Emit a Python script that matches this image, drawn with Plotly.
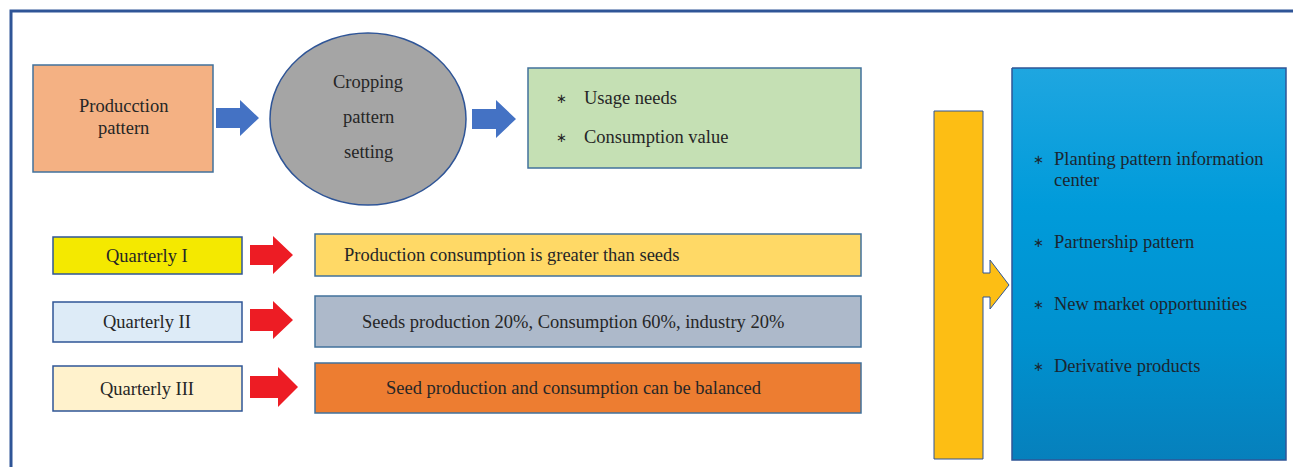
import plotly.graph_objects as go

# ---------------- content ----------------
production_label = ["Producction", "pattern"]
cropping_label = ["Cropping", "pattern", "setting"]
usage_items = ["Usage needs", "Consumption value"]
quarter_labels = ["Quarterly I", "Quarterly II", "Quarterly III"]
quarter_results = [
    "Production consumption is greater than seeds",
    "Seeds production 20%, Consumption 60%, industry 20%",
    "Seed production and consumption can be balanced",
]
outcome_items = [
    ["Planting pattern information", "center"],
    ["Partnership pattern"],
    ["New market opportunities"],
    ["Derivative products"],
]

# ---------------- styling / geometry (pixel layout of the diagram) ----------------
W, H = 1293, 467
FONT = "Liberation Serif"
FS = 18.5
TXT = "#262626"
EDGE = "#41719C"
FRAME = "#2F5597"

quarter_fill = ["#F4E900", "#DDEBF7", "#FFF2CC"]
result_fill = ["#FFD966", "#ADB9CA", "#ED7D31"]
quarter_box_y = [(237, 274), (302, 342), (366, 411)]
result_box_y = [(234, 276), (296, 347), (363, 413)]
red_arrow_geom = [  # x0, xhead, x1, yc, shaft half, head half
    (250, 273, 293, 255, 10, 19),
    (250, 273, 293, 320, 11, 19),
    (250, 278, 298, 387, 11, 20),
]
blue_arrow_geom = [
    (216, 240, 259, 118, 10, 18),
    (472, 496, 516, 119, 10, 19),
]
result_text_geom = [("left", 342), ("center", 573), ("center", 574)]
outcome_y = [[159, 180], [242], [304], [366]]

fig = go.Figure()
shapes = []
ann = []


def text(x, y, s, anchor="center", size=FS, color=TXT):
    ann.append(dict(x=x, y=y, xref="x", yref="y", text=s, showarrow=False,
                    xanchor=anchor, yanchor="middle",
                    font=dict(family=FONT, size=size, color=color)))


def rect(x0, y0, x1, y1, fill, edge=EDGE, w=1.5):
    shapes.append(dict(type="rect", xref="x", yref="y", x0=x0, y0=y0, x1=x1, y1=y1,
                       fillcolor=fill, line=dict(color=edge, width=w), layer="below"))


def arrow(x0, xh, x1, yc, sh, hh, fill, edge=None):
    p = (f"M {x0} {yc-sh} L {xh} {yc-sh} L {xh} {yc-hh} L {x1} {yc} L {xh} {yc+hh} "
         f"L {xh} {yc+sh} L {x0} {yc+sh} Z")
    shapes.append(dict(type="path", xref="x", yref="y", path=p, fillcolor=fill,
                       line=dict(color=edge or fill, width=1 if edge else 0), layer="below"))


# frame
shapes.append(dict(type="path", xref="x", yref="y",
                   path=f"M 11 {H+5} L 11 11 L {W+5} 11", line=dict(color=FRAME, width=3)))

# top flow
rect(33, 65, 213, 172, "#F4B183")
for i, s in enumerate(production_label):
    text(123, 106 + 22 * i, s)
for g in blue_arrow_geom:
    arrow(*g, "#4472C4")
shapes.append(dict(type="circle", xref="x", yref="y", x0=270, y0=33, x1=466, y1=205,
                   fillcolor="#A5A5A5", line=dict(color=FRAME, width=1.5), layer="below"))
for i, s in enumerate(cropping_label):
    text(368, 82 + 35 * i, s)
rect(528, 68, 861, 168, "#C5E0B4")
for i, s in enumerate(usage_items):
    y = 98 + 39 * i
    text(561, y, "∗", size=13)
    text(582, y, s, anchor="left")

# quarterly rows
for i in range(3):
    y0, y1 = quarter_box_y[i]
    rect(53, y0, 242, y1, quarter_fill[i], edge=FRAME)
    text(147, (y0 + y1) / 2, quarter_labels[i])
    arrow(*red_arrow_geom[i], "#ED1C24")
    r0, r1 = result_box_y[i]
    rect(315, r0, 861, r1, result_fill[i])
    anc, tx = result_text_geom[i]
    text(tx, (r0 + r1) / 2, quarter_results[i], anchor=anc)

# big yellow arrow
yp = ("M 934 111 L 983 111 L 983 273 L 990 273 L 990 260 L 1009 285 L 990 309 "
      "L 990 297 L 983 297 L 983 459 L 934 459 Z")
shapes.append(dict(type="path", xref="x", yref="y", path=yp, fillcolor="#FDBE14",
                   line=dict(color=FRAME, width=1), layer="below"))

# gradient blue box
fig.add_trace(go.Scatter(
    x=[1012, 1286, 1286, 1012, 1012], y=[68, 68, 460, 460, 68],
    mode="lines", fill="toself", line=dict(color=FRAME, width=1.5),
    fillgradient=dict(type="vertical",
                      colorscale=[[0, "#0680BC"], [0.3, "#0091CF"], [0.65, "#009BDA"], [1, "#1FA6E0"]]),
    hoverinfo="skip", showlegend=False))
for item, ys in zip(outcome_items, outcome_y):
    text(1038, ys[0], "∗", size=13, color="#1b2630")
    for s, y in zip(item, ys):
        text(1052, y, s, anchor="left", color="#1b2630")

fig.update_layout(
    width=W, height=H, margin=dict(l=0, r=0, t=0, b=0),
    paper_bgcolor="white", plot_bgcolor="white",
    xaxis=dict(range=[0, W], visible=False, fixedrange=True),
    yaxis=dict(range=[H, 0], visible=False, fixedrange=True),
    shapes=shapes, annotations=ann, showlegend=False,
)
fig.write_html("out.html", config={"displayModeBar": False},
               post_script="document.body.style.margin='0';document.body.style.overflow='hidden';")
